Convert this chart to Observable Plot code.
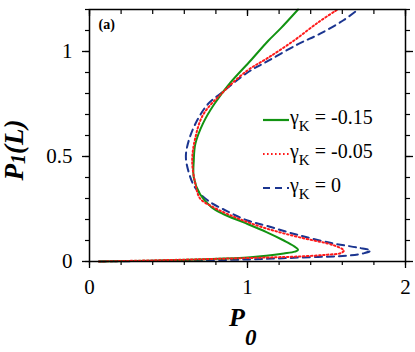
<!DOCTYPE html>
<html><head><meta charset="utf-8">
<script src="https://cdn.jsdelivr.net/npm/d3@7"></script>
<script src="https://cdn.jsdelivr.net/npm/@observablehq/plot@0.6"></script>
<style>
html,body{margin:0;padding:0;background:#fff;}
#chart{width:415px;height:352px;}
#chart svg, #chart svg text { font-family: "Liberation Serif", "Times New Roman", serif !important; }
</style></head><body><div id="chart"></div>
<script>
// series labels (gamma_K values), colours, dash patterns
const seriesNames = ["-0.15", "-0.05", "0"];
const seriesColors = ["#129312", "#ff1a1a", "#1b3590"];
const seriesDash = ["none", "1.6,2.4", "7,5"];

// gamma_K = -0.15 (green, solid)
const g1_P0 = [0.06, 0.4, 0.7, 1.02, 1.23, 1.30, 1.32, 1.29, 1.23, 1.12, 0.98, 0.85, 0.77, 0.70, 0.66, 0.66, 0.67, 0.72, 0.79, 0.89, 1.02, 1.13, 1.21, 1.32];
const g1_P1 = [0.0, 0.004, 0.01, 0.02, 0.038, 0.047, 0.055, 0.075, 0.10, 0.14, 0.185, 0.225, 0.26, 0.32, 0.40, 0.48, 0.56, 0.66, 0.75, 0.85, 0.957, 1.05, 1.11, 1.2];

// gamma_K = -0.05 (red, dotted)
const g2_P0 = [0.06, 0.5, 1.12, 1.33, 1.50, 1.59, 1.61, 1.55, 1.33, 1.12, 0.94, 0.78, 0.70, 0.67, 0.65, 0.67, 0.72, 0.85, 1.0, 1.13, 1.29, 1.45, 1.57];
const g2_P1 = [0.0, 0.007, 0.019, 0.024, 0.032, 0.04, 0.052, 0.076, 0.115, 0.157, 0.205, 0.26, 0.30, 0.37, 0.48, 0.59, 0.70, 0.81, 0.91, 0.97, 1.05, 1.14, 1.2];

// gamma_K = 0 (blue, dashed)
const g3_P0 = [0.06, 0.5, 1.02, 1.33, 1.65, 1.74, 1.78, 1.70, 1.55, 1.33, 1.12, 1.0, 0.87, 0.75, 0.67, 0.63, 0.61, 0.63, 0.68, 0.75, 0.83, 1.0, 1.13, 1.32, 1.46, 1.61, 1.70];
const g3_P1 = [0.0, 0.004, 0.01, 0.019, 0.029, 0.04, 0.052, 0.066, 0.085, 0.124, 0.17, 0.195, 0.24, 0.29, 0.35, 0.42, 0.50, 0.58, 0.67, 0.75, 0.80, 0.9, 0.955, 1.035, 1.085, 1.15, 1.2];

// ticks
const xMajor = [0, 1, 2];
const yMajor = [0, 0.5, 1];
const xMinor = [0, 0.2, 0.4, 0.6, 0.8, 1, 1.2, 1.4, 1.6, 1.8, 2];
const yMinor = [0, 0.1, 0.2, 0.3, 0.4, 0.5, 0.6, 0.7, 0.8, 0.9, 1, 1.1, 1.2];

const toRows = (xs, ys) => xs.map((x, i) => ({P0: x, P1: ys[i]}));
const rows = [toRows(g1_P0, g1_P1), toRows(g2_P0, g2_P1), toRows(g3_P0, g3_P1)];
const drawOrder = [2, 0, 1];

const font = "Liberation Serif, Times New Roman, serif";

const plot = Plot.plot({
  width: 415, height: 352,
  marginLeft: 89, marginRight: 10, marginTop: 9, marginBottom: 91,
  style: {fontFamily: font, background: "#fff", color: "#000"},
  x: {domain: [0, 2]},
  y: {domain: [0, 1.2]},
  marks: [
    // minor ticks
    Plot.axisX({ticks: xMinor, tickSize: 4, tickFormat: () => "", label: null, strokeWidth: 1.2}),
    Plot.axisX({anchor: "top", ticks: xMinor, tickSize: -4, tickFormat: () => "", label: null, strokeWidth: 1.2}),
    Plot.axisY({ticks: yMinor, tickSize: 4, tickFormat: () => "", label: null, strokeWidth: 1.2}),
    Plot.axisY({anchor: "right", ticks: yMinor, tickSize: 4, tickFormat: () => "", label: null, strokeWidth: 1.2}),
    // major ticks with labels
    Plot.axisX({ticks: xMajor, tickSize: 7, tickPadding: 11, fontSize: 21, label: null, strokeWidth: 1.3, tickFormat: d => String(d)}),
    Plot.axisX({anchor: "top", ticks: xMajor, tickSize: -6, tickFormat: () => "", label: null, strokeWidth: 1.3}),
    Plot.axisY({ticks: yMajor, tickSize: 7, tickPadding: 10, fontSize: 21, label: null, strokeWidth: 1.3, tickFormat: d => String(d)}),
    Plot.axisY({anchor: "right", ticks: yMajor, tickSize: 7, tickFormat: () => "", label: null, strokeWidth: 1.3}),
    ...drawOrder.map(i => Plot.line(rows[i], {
      x: "P0", y: "P1", stroke: seriesColors[i], strokeWidth: 2,
      strokeDasharray: seriesDash[i], curve: "catmull-rom"
    })),
    Plot.frame({stroke: "#000", strokeWidth: 1.5}),
    Plot.text(["(a)"], {frameAnchor: "top-left", dx: 9, dy: 10, fontWeight: "bold", fontSize: 14, textAnchor: "start", lineAnchor: "top"})
  ]
});
document.getElementById("chart").appendChild(plot);

const svg = d3.select(plot);
const sx = plot.scale("x"), sy = plot.scale("y");

// x title P_0
const xt = svg.append("text")
  .attr("x", sx.apply(1) - 18).attr("y", sy.apply(0) + 65)
  .attr("text-anchor", "start")
  .attr("font-weight", "bold").attr("font-style", "italic")
  .attr("font-size", 26).attr("fill", "#000");
xt.append("tspan").text("P");
xt.append("tspan").attr("font-size", 23).attr("dy", 19).text("0");

// y title P_1(L)
const yt = svg.append("text")
  .attr("transform", `translate(23,${(sy.apply(0) + sy.apply(1.2)) / 2 + 15}) rotate(-90)`)
  .attr("text-anchor", "middle")
  .attr("font-weight", "bold").attr("font-style", "italic")
  .attr("font-size", 27).attr("fill", "#000");
yt.append("tspan").text("P");
yt.append("tspan").attr("font-size", 20).attr("dy", 2).text("1");
yt.append("tspan").attr("dy", -2).text("(L)");

// legend
const lg = svg.append("g").attr("text-anchor", "start");
seriesNames.forEach((name, i) => {
  const yb = 124 + 34 * i;
  lg.append("line").attr("x1", 263).attr("x2", 289).attr("y1", yb - 4).attr("y2", yb - 4)
    .attr("stroke", seriesColors[i]).attr("stroke-width", 2.2)
    .attr("stroke-dasharray", seriesDash[i]);
  const t = lg.append("text").attr("x", 290).attr("y", yb).attr("font-size", 20).attr("fill", "#000");
  t.append("tspan").text("γ");
  t.append("tspan").attr("font-size", 15).attr("dy", 7).text("K");
  t.append("tspan").attr("dy", -7).text(" = " + name);
});
</script>
</body></html>
